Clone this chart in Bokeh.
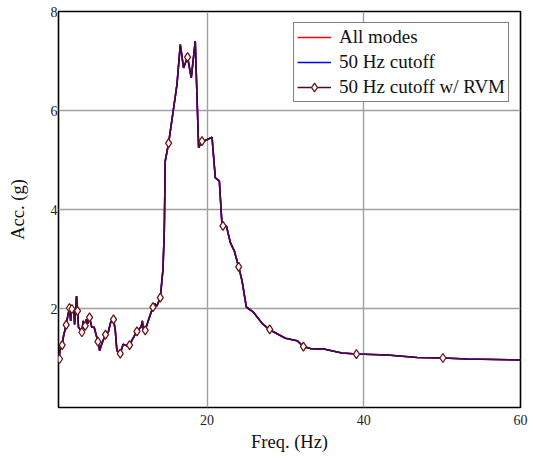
from bokeh.plotting import figure
from bokeh.models import FixedTicker, Range1d, Legend, LegendItem
from bokeh.embed import file_html
from bokeh.resources import INLINE

# ---- data ----
freq_hz = [1.1, 1.3, 1.52, 1.7, 2.03, 2.2, 2.45, 2.6, 2.7, 2.76, 2.9, 3.0, 3.1, 3.25, 3.35,
           3.48, 3.6, 3.8, 4.03, 4.2, 4.3, 4.46, 4.6, 4.8, 5.01, 5.3, 5.6, 5.8, 6.08, 6.3,
           6.6, 7.05, 7.4, 7.7, 8.07, 8.3, 8.5, 8.93, 9.3, 9.7, 10.12, 10.5, 11.06, 11.3,
           11.6, 11.75, 11.85, 12.12, 12.5, 13.1, 13.3, 13.6, 14.04, 14.38, 14.55, 14.67,
           15.1, 16.17, 16.59, 17.01, 17.52, 17.99, 18.5, 18.93, 19.36, 19.57, 20.64, 21.06,
           21.57, 21.91, 22.04, 22.47, 22.98, 23.49, 24.04, 24.47, 25.02, 25.95, 27.02, 28.0,
           30.0, 31.5, 32.3, 33.2, 34.9, 37.2, 39.07, 43.0, 46.8, 50.1, 53.2, 60.0]
acc_all_modes = [0.98, 1.22, 1.26, 1.45, 1.67, 1.82, 2.01, 1.75, 2.03, 1.99, 1.95, 2.0, 1.68,
                 1.97, 2.25, 1.95, 1.62, 1.58, 1.52, 1.75, 1.6, 1.65, 1.78, 1.7, 1.82, 1.62,
                 1.62, 1.5, 1.33, 1.15, 1.3, 1.47, 1.52, 1.72, 1.78, 1.55, 1.15, 1.09, 1.28,
                 1.25, 1.26, 1.38, 1.54, 1.58, 1.63, 1.75, 1.6, 1.56, 1.75, 2.03, 2.1, 2.05,
                 2.22, 2.79, 3.57, 4.98, 5.34, 6.53, 7.33, 6.86, 7.08, 6.66, 7.4, 5.25, 5.38,
                 5.38, 5.46, 4.64, 4.58, 3.70, 3.67, 3.67, 3.33, 3.16, 2.84, 2.56, 2.03, 1.92,
                 1.70, 1.57, 1.40, 1.35, 1.23, 1.19, 1.18, 1.10, 1.08, 1.06, 1.01, 1.0, 0.98,
                 0.96]
# the three curves coincide in the reference
acc_50hz_cutoff = list(acc_all_modes)
acc_50hz_rvm = list(acc_all_modes)

marker_freq = [1.18, 1.52, 2.03, 2.45, 2.76, 3.48, 4.03, 4.46, 5.01, 6.08, 7.05, 8.07, 8.93,
               10.12, 11.06, 12.12, 13.1, 14.04, 15.1, 17.52, 19.36, 22.04, 24.04, 28.0,
               32.3, 39.07, 50.1]
marker_acc = [0.98, 1.26, 1.67, 2.01, 1.99, 1.95, 1.52, 1.65, 1.82, 1.33, 1.47, 1.78, 1.09,
              1.26, 1.54, 1.56, 2.03, 2.22, 5.34, 7.08, 5.38, 3.67, 2.84, 1.58, 1.23, 1.08,
              1.0]

x_ticks = [20, 40, 60]
y_ticks = [2, 4, 6, 8]
series_labels = ["All modes", "50 Hz cutoff", "50 Hz cutoff w/ RVM"]

FONT = "'Liberation Serif', 'Times New Roman', Times, serif"

p = figure(output_backend="svg", toolbar_location=None,
           frame_width=462, frame_height=396,
           x_range=Range1d(1.05, 60), y_range=Range1d(0, 8))
p.min_border_left = 58
p.min_border_right = 8
p.min_border_top = 11
p.min_border_bottom = 52
p.background_fill_color = "white"
p.border_fill_color = "white"
p.outline_line_color = "black"
p.outline_line_width = 1.6

for ax, ticks in ((p.xaxis, x_ticks), (p.yaxis, y_ticks)):
    ax.ticker = FixedTicker(ticks=ticks)
    ax.major_tick_in = 0
    ax.major_tick_out = 0
    ax.minor_tick_in = 0
    ax.minor_tick_out = 0
    ax.axis_line_color = None
    ax.major_label_text_font = FONT
    ax.major_label_text_font_size = "14px"
    ax.major_label_text_color = "#222222"
    ax.axis_label_text_font = FONT
    ax.axis_label_text_font_size = "18.5px"
    ax.axis_label_text_font_style = "normal"
    ax.axis_label_text_color = "#111111"

p.xaxis.axis_label = "Freq. (Hz)"
p.yaxis.axis_label = "Acc. (g)"
p.xaxis.major_label_standoff = 7
p.yaxis.major_label_standoff = 1
p.xaxis.axis_label_standoff = 4
p.yaxis.axis_label_standoff = 20

p.xgrid.ticker = FixedTicker(ticks=[20, 40])
p.ygrid.ticker = FixedTicker(ticks=[2, 4, 6])
p.xgrid.grid_line_color = "#a0a0a0"
p.ygrid.grid_line_color = "#a0a0a0"
p.xgrid.grid_line_width = 1.4
p.ygrid.grid_line_width = 1.4

r_all = p.line(freq_hz, acc_all_modes, line_color="red", line_width=1.6)
r_50 = p.line(freq_hz, acc_50hz_cutoff, line_color="blue", line_width=1.6)
r_rvm = p.line(freq_hz, acc_50hz_rvm, line_color="#4c0a3a", line_width=1.6)
r_mk = p.scatter(marker_freq, marker_acc, marker="diamond", size=9,
                 line_color="#6b1515", line_width=1.3, fill_color="white")

legend = Legend(items=[
    LegendItem(label=series_labels[0], renderers=[r_all]),
    LegendItem(label=series_labels[1], renderers=[r_50]),
    LegendItem(label=series_labels[2], renderers=[r_rvm, r_mk]),
], location="top_right")
legend.margin = 11
legend.padding = 3
legend.spacing = 3
legend.glyph_width = 34
legend.glyph_height = 22
legend.label_standoff = 8
legend.label_text_font = FONT
legend.label_text_font_size = "19px"
legend.label_text_color = "#111111"
legend.border_line_color = "black"
legend.border_line_width = 1.5
legend.background_fill_color = "white"
legend.background_fill_alpha = 1.0
p.add_layout(legend)

open("out.html", "w").write(file_html(p, INLINE))
